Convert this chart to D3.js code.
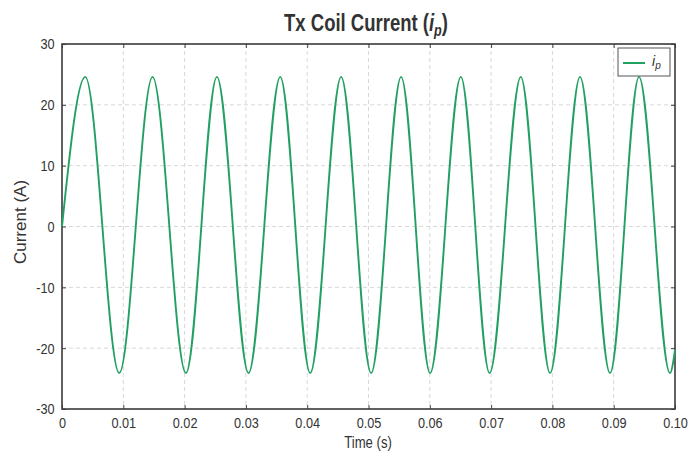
<!DOCTYPE html>
<meta charset="utf-8">
<head>
<style>
  body { margin: 0; background: #fff; }
  text { font-family: "Liberation Sans", Arial, sans-serif; fill: #333; }
</style>
</head>
<body>
<script src="https://d3js.org/d3.v7.min.js"></script>
<script>

// values: start, peaks and troughs of i_p, end point
var time = [0, 0.0038, 0.00934, 0.01477, 0.02022, 0.02527, 0.03043, 0.0356, 0.04049,
            0.04554, 0.05043, 0.05532, 0.06005, 0.06506, 0.06975, 0.07484, 0.07962,
            0.08451, 0.0894, 0.09413, 0.09918, 0.1];
var current = [0, 24.6, -24.1, 24.6, -24.1, 24.6, -24.1, 24.6, -24.1,
               24.6, -24.1, 24.6, -24.1, 24.6, -24.1, 24.6, -24.1,
               24.6, -24.1, 24.6, -24.1, -20.3];

var xTicks = [0, 0.01, 0.02, 0.03, 0.04, 0.05, 0.06, 0.07, 0.08, 0.09, 0.1];
var xTickLabels = ["0", "0.01", "0.02", "0.03", "0.04", "0.05", "0.06", "0.07", "0.08", "0.09", "0.10"];
var yTicks = [-30, -20, -10, 0, 10, 20, 30];

var width = 699,
    height = 455;
// plot box (window.top is reserved, so no plain "top")
var pLeft = 62, pRight = 675, pTop = 44, pBottom = 409;
var squeeze = 0.82; // text in the picture is narrow

var svg = d3.select("body").append("svg")
    .attr("width", width)
    .attr("height", height);

var x = d3.scaleLinear().domain([0, 0.1]).range([pLeft, pRight]);
var y = d3.scaleLinear().domain([-30, 30]).range([pBottom, pTop]);

//Grid
svg.append("g").selectAll("line")
  .data(xTicks.slice(1, -1))
  .enter().append("line")
  .attr("x1", d => x(d)).attr("x2", d => x(d))
  .attr("y1", pTop).attr("y2", pBottom)
  .attr("stroke", "#d8d8d8").attr("stroke-dasharray", "4,3");

svg.append("g").selectAll("line")
  .data(yTicks.slice(1, -1))
  .enter().append("line")
  .attr("x1", pLeft).attr("x2", pRight)
  .attr("y1", d => y(d)).attr("y2", d => y(d))
  .attr("stroke", "#d8d8d8").attr("stroke-dasharray", "4,3");

//Axes
var xAxis = svg.append("g")
  .attr("transform", "translate(0," + pBottom + ")")
  .call(d3.axisBottom(x).tickValues(xTicks).tickSize(-4).tickPadding(8)
    .tickFormat((d, i) => xTickLabels[i]));

var yAxis = svg.append("g")
  .attr("transform", "translate(" + pLeft + ",0)")
  .call(d3.axisLeft(y).tickValues(yTicks).tickSize(-4).tickPadding(9)
    .tickFormat(d => String(d)));

svg.append("g")
  .attr("transform", "translate(" + pRight + ",0)")
  .call(d3.axisRight(y).tickValues(yTicks).tickSize(-4).tickFormat(""));

svg.append("g")
  .attr("transform", "translate(0," + pTop + ")")
  .call(d3.axisTop(x).tickValues(xTicks).tickSize(-4).tickFormat(""));

svg.selectAll(".domain").remove();
svg.selectAll(".tick line").attr("stroke", "#444");

[xAxis, yAxis].forEach(function(a) {
  a.selectAll("text")
    .attr("font-size", "15.5px")
    .attr("fill", "#333")
    .attr("font-family", "'Liberation Sans', Arial, sans-serif")
    .attr("transform", "scale(" + squeeze + ",1)");
});

//Frame
svg.append("rect")
  .attr("x", pLeft).attr("y", pTop)
  .attr("width", pRight - pLeft).attr("height", pBottom - pTop)
  .attr("fill", "none")
  .attr("stroke", "#3a3a3a")
  .attr("stroke-width", 1.6);

//Line
var line = d3.line()
  .x((d, i) => x(time[i]))
  .y(d => y(d))
  .curve(d3.curveMonotoneX);

svg.append("path")
  .datum(current)
  .attr("d", line)
  .attr("fill", "none")
  .attr("stroke", "#22a062")
  .attr("stroke-width", 1.9);

//Title
var title = svg.append("g")
  .attr("transform", "translate(366,31)")
  .append("text")
  .attr("text-anchor", "middle")
  .attr("font-size", "23.5px")
  .attr("font-weight", "bold")
  .attr("fill", "#1a1a1a");
title.append("tspan").text("Tx Coil Current (");
title.append("tspan").attr("font-style", "italic").text("i");
title.append("tspan").attr("font-style", "italic").attr("font-size", "16px").attr("dy", 5).text("p");
title.append("tspan").attr("dy", -5).text(")");
var tw = title.node().getBBox().width;
title.attr("transform", "scale(" + (164 / tw) + ",1)");

//Axis labels
svg.append("g")
  .attr("transform", "translate(368,448)")
  .append("text")
  .attr("text-anchor", "middle")
  .attr("font-size", "16px")
  .attr("transform", "scale(" + squeeze + ",1)")
  .text("Time (s)");

svg.append("g")
  .attr("transform", "translate(26,222) rotate(-90)")
  .append("text")
  .attr("text-anchor", "middle")
  .attr("font-size", "17px")
  .text("Current (A)");

//Legend
var legend = svg.append("g").attr("transform", "translate(618,48)");
legend.append("rect")
  .attr("width", 52).attr("height", 28)
  .attr("fill", "#fff")
  .attr("stroke", "#555")
  .attr("stroke-width", 1);
legend.append("line")
  .attr("x1", 5).attr("x2", 27)
  .attr("y1", 15).attr("y2", 15)
  .attr("stroke", "#22a062")
  .attr("stroke-width", 2);
var lt = legend.append("text")
  .attr("x", 34).attr("y", 18)
  .attr("font-size", "14px")
  .attr("font-style", "italic");
lt.append("tspan").text("i");
lt.append("tspan").attr("font-size", "10px").attr("dy", 3).text("p");

</script>
</body>
